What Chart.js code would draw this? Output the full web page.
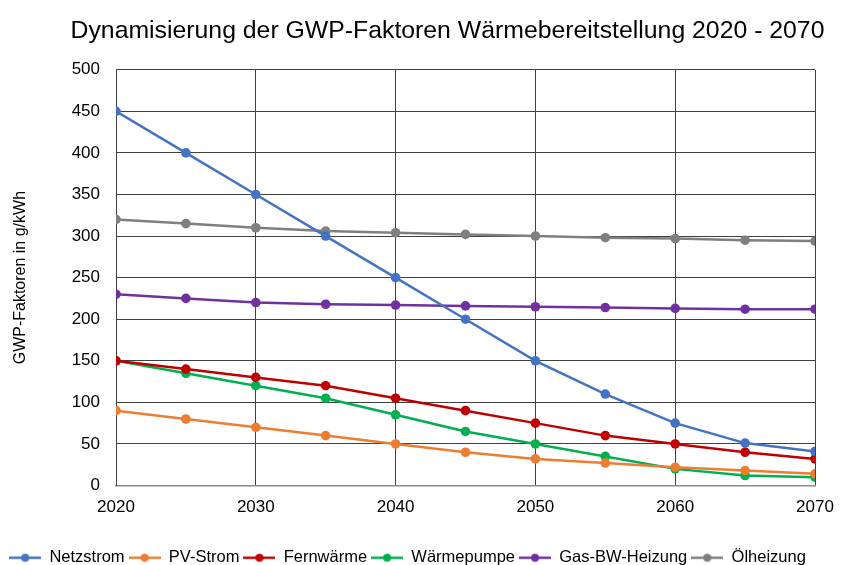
<!DOCTYPE html>
<html>
<head>
<meta charset="utf-8">
<script src="https://cdn.jsdelivr.net/npm/chart.js@4"></script>
<style>
  html, body { margin: 0; padding: 0; background: #fff; }
  #wrap { width: 842px; height: 565px; }
</style>
</head>
<body>
<div id="wrap"><canvas id="c" width="842" height="565"></canvas></div>
<script>
var years = [2020, 2025, 2030, 2035, 2040, 2045, 2050, 2055, 2060, 2065, 2070];
var netzstrom = [450, 400, 350, 300, 250, 200, 150, 110, 75, 51, 41];
var pvStrom = [90, 80, 70, 60, 50, 40, 32, 27, 22, 18, 14];
var fernwaerme = [150, 140, 130, 120, 105, 90, 75, 60, 50, 40, 32];
var waermepumpe = [150, 135, 120, 105, 85, 65, 50, 35, 20, 12, 10];
var gasBw = [230, 225, 220, 218, 217, 216, 215, 214, 213, 212, 212];
var oelheizung = [320, 315, 310, 306, 304, 302, 300, 298, 297, 295, 294];
var xTicks = [2020, 2030, 2040, 2050, 2060, 2070];

var FONT = '"Liberation Sans", Arial, sans-serif';

function points (vals) {
  return vals.map(function (v, i) { return { x: years[i], y: v }; });
}

// line with a dot, used as legend symbol
function marker (color) {
  var cv = document.createElement('canvas');
  cv.width = 32; cv.height = 10;
  var g = cv.getContext('2d');
  g.strokeStyle = color; g.lineWidth = 2.5;
  g.beginPath(); g.moveTo(0, 5); g.lineTo(32, 5); g.stroke();
  g.fillStyle = color;
  g.beginPath(); g.arc(16, 5, 4, 0, Math.PI * 2); g.fill();
  return cv;
}

function ds (label, vals, color) {
  return {
    label: label,
    data: points(vals),
    borderColor: color,
    backgroundColor: color,
    borderWidth: 2.5,
    pointRadius: 4.8,
    pointHoverRadius: 4.8,
    pointBorderWidth: 0,
    pointStyle: 'circle',
    legendMarker: marker(color),
    tension: 0
  };
}

var datasets = [
  ds('Netzstrom', netzstrom, '#4472C4'),
  ds('PV-Strom', pvStrom, '#ED7D31'),
  ds('Fernwärme', fernwaerme, '#C00000'),
  ds('Wärmepumpe', waermepumpe, '#00B050'),
  ds('Gas-BW-Heizung', gasBw, '#7030A0'),
  ds('Ölheizung', oelheizung, '#7F7F7F')
];

// title sits a bit right of the page centre, legend a bit lower
var nudge = {
  id: 'nudge',
  afterLayout: function (chart) {
    chart.titleBlock.left += 40;
    chart.titleBlock.right += 40;
    chart.legend.top += 11;
    chart.legend.bottom += 11;
  }
};

new Chart(document.getElementById('c'), {
  type: 'line',
  data: { datasets: datasets },
  plugins: [nudge],
  options: {
    responsive: false,
    animation: false,
    devicePixelRatio: 1,
    layout: { padding: { left: 0, right: 27, top: 0, bottom: 0 } },
    plugins: {
      title: {
        display: true,
        text: 'Dynamisierung der GWP-Faktoren Wärmebereitstellung 2020 - 2070',
        color: '#000',
        font: { family: FONT, size: 24.8, weight: 'normal' },
        padding: { top: 16, bottom: 24 }
      },
      legend: {
        position: 'bottom',
        labels: {
          color: '#000',
          font: { family: FONT, size: 16.5 },
          usePointStyle: true,
          pointStyleWidth: 32,
          padding: 4,
          generateLabels: function (chart) {
            return chart.data.datasets.map(function (d, i) {
              return {
                text: d.label,
                fillStyle: d.borderColor,
                strokeStyle: d.borderColor,
                pointStyle: d.legendMarker,
                datasetIndex: i,
                hidden: false,
                fontColor: '#000'
              };
            });
          }
        }
      },
      tooltip: { enabled: false }
    },
    scales: {
      x: {
        type: 'linear',
        min: 2020,
        max: 2070,
        afterBuildTicks: function (axis) {
          axis.ticks = xTicks.map(function (v) { return { value: v }; });
        },
        afterFit: function (axis) {
          axis.height = 49;
          axis.paddingRight = 0;
        },
        ticks: {
          color: '#000',
          font: { family: FONT, size: 17 },
          padding: 12,
          callback: function (v) { return String(v); }
        },
        grid: { color: '#404040', lineWidth: 1, drawTicks: false },
        border: { color: '#8c8c8c', width: 1.5 }
      },
      y: {
        min: 0,
        max: 500,
        afterFit: function (axis) { axis.width = 116; },
        ticks: {
          stepSize: 50,
          color: '#000',
          font: { family: FONT, size: 17 },
          padding: 16
        },
        grid: { color: '#404040', lineWidth: 1, drawTicks: false },
        border: { color: '#404040', width: 1 },
        title: {
          display: true,
          text: 'GWP-Faktoren in g/kWh',
          color: '#000',
          font: { family: FONT, size: 16 },
          padding: { top: 11, bottom: 0 }
        }
      }
    }
  }
});
</script>
</body>
</html>
